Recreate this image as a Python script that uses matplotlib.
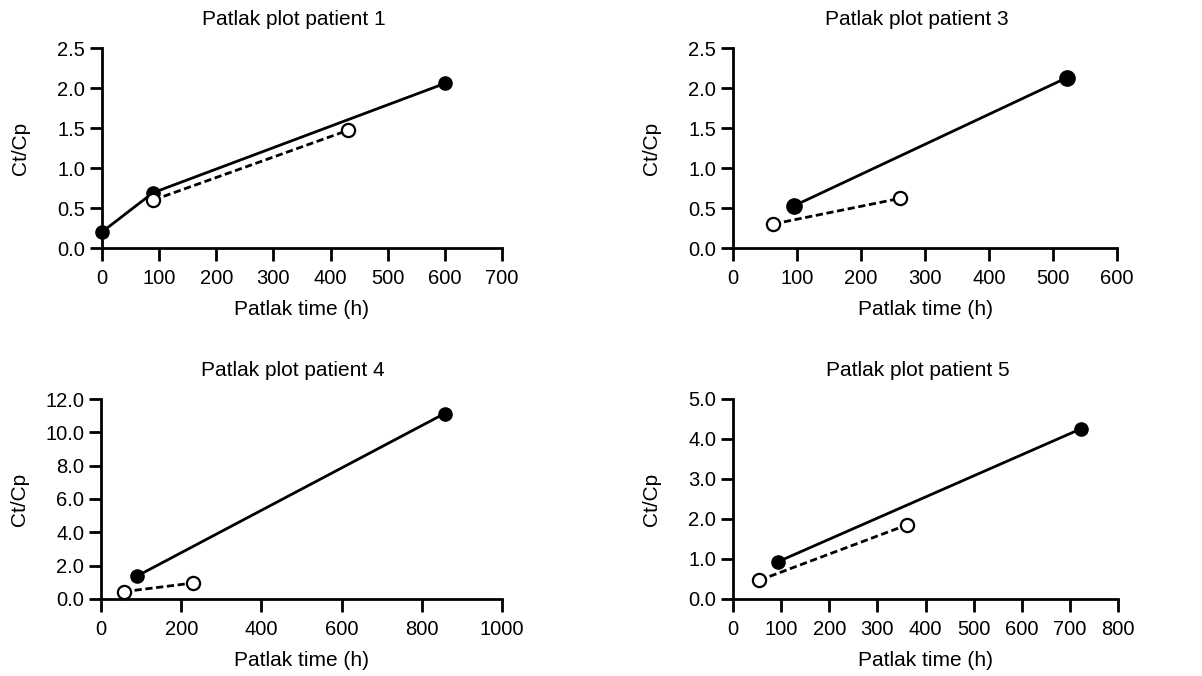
import matplotlib
matplotlib.use("Agg")
import matplotlib.pyplot as plt
from matplotlib.ticker import FormatStrFormatter

plt.rcParams['font.family'] = ['Liberation Sans', 'DejaVu Sans']

titles = ["Patlak plot patient 1", "Patlak plot patient 3",
          "Patlak plot patient 4", "Patlak plot patient 5"]

# filled series (solid line)
p1_fx = [0, 89, 601]
p1_fy = [0.20, 0.69, 2.06]
p1_ox = [90, 430]
p1_oy = [0.60, 1.47]

p3_fx = [96, 522]
p3_fy = [0.53, 2.13]
p3_ox = [63, 261]
p3_oy = [0.30, 0.62]

p4_fx = [90, 857]
p4_fy = [1.38, 11.13]
p4_ox = [57, 230]
p4_oy = [0.44, 0.96]

p5_fx = [93, 724]
p5_fy = [0.93, 4.26]
p5_ox = [55, 361]
p5_oy = [0.47, 1.85]

xticks = [list(range(0, 701, 100)), list(range(0, 601, 100)),
          list(range(0, 1001, 200)), list(range(0, 801, 100))]
yticks = [[0, 0.5, 1.0, 1.5, 2.0, 2.5], [0, 0.5, 1.0, 1.5, 2.0, 2.5],
          [0, 2, 4, 6, 8, 10, 12], [0, 1, 2, 3, 4, 5]]

data = [(p1_fx, p1_fy, p1_ox, p1_oy), (p3_fx, p3_fy, p3_ox, p3_oy),
        (p4_fx, p4_fy, p4_ox, p4_oy), (p5_fx, p5_fy, p5_ox, p5_oy)]

W, H = 1202, 676
boxes = [(102, 48, 502, 248), (733, 48, 1117, 248),
         (101, 399, 502, 599), (733, 399, 1118, 599)]
filled_ms = [9.5, 11, 9.5, 9.5]

fig = plt.figure(figsize=(W / 100, H / 100), dpi=100)
for i in range(4):
    l, t, r, b = boxes[i]
    ax = fig.add_axes([l / W, 1 - b / H, (r - l) / W, (b - t) / H])
    fx, fy, ox, oy = data[i]
    ax.plot(fx, fy, '-', color='black', lw=2.0, marker='o', ms=filled_ms[i],
            mfc='black', mec='black', clip_on=False, zorder=3)
    ax.plot(ox, oy, color='black', lw=2.0, ls=(0, (2.6, 1.3)), marker='o', ms=9.5,
            mfc='white', mec='black', mew=1.6, clip_on=False, zorder=4)
    ax.set_xlim(xticks[i][0], xticks[i][-1])
    ax.set_ylim(yticks[i][0], yticks[i][-1])
    ax.set_xticks(xticks[i])
    ax.set_yticks(yticks[i])
    ax.yaxis.set_major_formatter(FormatStrFormatter('%.1f'))
    for s in ['top', 'right']:
        ax.spines[s].set_visible(False)
    for s in ['left', 'bottom']:
        ax.spines[s].set_linewidth(2.0)
    ax.tick_params(axis='both', length=9, width=2.0, labelsize=14.5)
    ax.tick_params(axis='x', pad=6)
    ax.tick_params(axis='y', pad=3)
    ax.set_xlabel("Patlak time (h)", fontsize=15, labelpad=9)
    ax.set_ylabel("Ct/Cp", fontsize=15)
    ax.yaxis.set_label_coords(-72 / (r - l), 0.5)
    ax.annotate(titles[i], xy=(0.479, 1), xycoords='axes fraction',
                xytext=(0, 14), textcoords='offset points',
                ha='center', va='bottom', fontsize=15)

fig.savefig("out.png", dpi=100)
